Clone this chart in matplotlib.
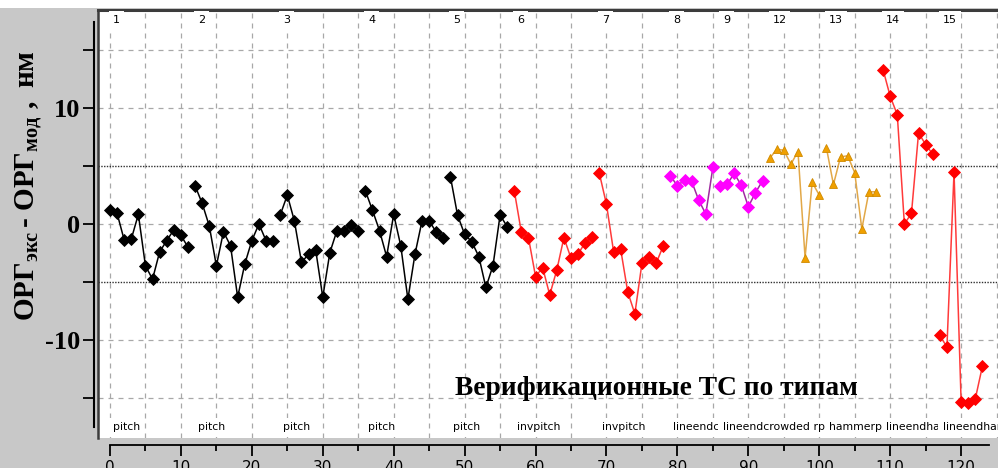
import numpy as np
import matplotlib.pyplot as plt
from matplotlib.patches import Rectangle

plt.rcParams['axes.unicode_minus'] = False
plt.rcParams['mathtext.fontset'] = 'custom'
plt.rcParams['mathtext.rm'] = 'Liberation Serif:bold'
plt.rcParams['mathtext.bf'] = 'Liberation Serif:bold'
plt.rcParams['mathtext.it'] = 'Liberation Serif:bold'

# group numbers (top row) and test-structure types (bottom row)
group_ids = ["1", "2", "3", "4", "5", "6", "7", "8", "9", "12", "13", "14", "15"]
group_types = ["pitch", "pitch", "pitch", "pitch", "pitch", "invpitch", "invpitch",
               "lineendcrowded", "lineendcrowded", "hammerpa", "hammerpattern",
               "lineendhammer", "lineendhammer"]

# ORG_exp - ORG_mod, nm, per group
g1 = [1.2, 0.92, -1.37, -1.3, 0.83, -3.6, -4.75, -2.4, -1.43, -0.5, -0.97, -2.0]
g2 = [3.29, 1.77, -0.17, -3.6, -0.66, -1.89, -6.3, -3.46, -1.43, 0.0, -1.43, -1.43]
g3 = [0.77, 2.49, 0.26, -3.3, -2.6, -2.23, -6.3, -2.46, -0.57, -0.57, -0.09, -0.57]
g4 = [2.86, 1.2, -0.57, -2.8, 0.83, -1.89, -6.47, -2.6, 0.28, 0.28, -0.71, -1.17]
g5 = [4.06, 0.77, -0.89, -1.52, -2.8, -5.46, -3.58, 0.77, -0.23]
g6 = [2.86, -0.71, -1.17, -4.52, -3.75, -6.1, -3.95, -1.17, -2.95, -2.58, -1.6, -1.09]
g7 = [4.35, 1.69, -2.37, -2.17, -5.86, -7.73, -3.38, -2.86, -3.38, -1.89]
g8 = [4.15, 3.29, 3.78, 3.69, 2.06, 0.86, 4.87]
g9 = [3.26, 3.4, 4.35, 3.35, 1.49, 2.69, 3.72]
g12 = [5.64, 6.44, 6.35, 5.15, 6.24, -2.89, 3.58, 2.49]
g13 = [6.58, 3.4, 5.78, 5.87, 4.43, -0.43, 2.77, 2.77]
g14 = [13.28, 10.99, 9.41, 0.0, 0.92, 7.84, 6.84, 6.0]
g15 = [-9.59, -10.59, 4.44, -15.3, -15.45, -15.05, -12.25]
groups = [g1, g2, g3, g4, g5, g6, g7, g8, g9, g12, g13, g14, g15]

# style per group: (marker, marker colour, line colour)
black = ('D', '#000000', '#000000')
red = ('D', '#ff0000', '#ff3a3a')
magenta = ('D', '#ff00ff', '#a02aa0')
orange = ('^', '#f0a000', '#e2a848')
group_styles = [black] * 5 + [red] * 2 + [magenta] * 2 + [orange] * 2 + [red] * 2

BG = '#c8c8c8'
W, H = 998, 468

fig = plt.figure(figsize=(W / 100, H / 100), dpi=100, facecolor=BG)
fig.patches.append(Rectangle((0, 1 - 8 / H), 1, 8 / H, transform=fig.transFigure,
                             facecolor='white', edgecolor='none'))

pos = [98 / W, (H - 438) / H, 900 / W, 428 / H]
YLIM = (-18.42, 18.42)
ax = fig.add_axes(pos)
ax.set_facecolor('white')
ax.set_xlim(-1.69, 125.2)
ax.set_ylim(*YLIM)

# frame: dark top and left, nothing on the right
ax.spines['top'].set_color('#3c3c3c')
ax.spines['top'].set_linewidth(2.2)
ax.spines['left'].set_color('#3c3c3c')
ax.spines['left'].set_linewidth(1.8)
ax.spines['right'].set_visible(False)
ax.spines['bottom'].set_position(('outward', 5))
ax.spines['bottom'].set_bounds(0, 124)
ax.spines['bottom'].set_linewidth(1.3)
ax.set_xticks(np.arange(0, 121, 10))
ax.set_xticks(np.arange(5, 125, 10), minor=True)
ax.tick_params(axis='x', which='major', length=8, width=1.3, pad=3,
               labelsize=11, labelcolor='black')
ax.tick_params(axis='x', which='minor', length=4, width=1.3)
ax.set_yticks([])

# grid
for gx in np.arange(0, 126, 5):
    ax.axvline(gx, color='#a8a8a8', lw=0.9, ls=(0, (4, 4)), zorder=0)
for gy in [-15, -10, 0, 10, 15]:
    ax.axhline(gy, color='#a8a8a8', lw=0.9, ls=(0, (4, 4)), zorder=0)
for gy in [-5, 5]:
    ax.axhline(gy, color='#303030', lw=1.0, ls=(0, (1, 1)), zorder=0)

# separate y axis just left of the frame
axy = fig.add_axes(pos)
axy.set_ylim(*YLIM)
axy.patch.set_visible(False)
for s in ['top', 'right', 'bottom']:
    axy.spines[s].set_visible(False)
axy.spines['left'].set_position(('outward', 3))
axy.spines['left'].set_bounds(-17.5, 17.4)
axy.spines['left'].set_linewidth(1.5)
axy.set_xticks([])
axy.set_yticks([-15, -10, -5, 0, 5, 10, 15])
axy.set_yticklabels(['', '-10', '', '0', '', '10', ''])
axy.tick_params(axis='y', length=8, width=1.3, pad=2, labelsize=19)
for lab in axy.get_yticklabels():
    lab.set_fontfamily('Liberation Serif')
    lab.set_fontweight('bold')

# series
start = 0
for i, vals in enumerate(groups):
    xs = np.arange(start, start + len(vals))
    mk, mc, lc = group_styles[i]
    ax.plot(xs, vals, color=lc, lw=1.1, zorder=3)
    ax.plot(xs, vals, ls='none', marker=mk, ms=5.8 if mk == 'D' else 6.2,
            mfc=mc, mec=mc if mk == 'D' else '#d08a00', mew=0.6, zorder=4)
    z = 5 + i
    if group_ids[i] == "12":
        z = 5 + i - 2  # drawn under the label of group 9
    ax.text(start + 0.4, 17.55, group_ids[i], fontsize=8, family='DejaVu Sans',
            ha='left', va='center', zorder=6,
            bbox=dict(boxstyle='square,pad=0.35', fc='white', ec='none'))
    ax.text(start + 0.4, -17.5, group_types[i], fontsize=7.8, family='DejaVu Sans',
            ha='left', va='center', zorder=z, clip_on=True,
            bbox=dict(boxstyle='square,pad=0.4', fc='white', ec='none'))
    start += len(vals)

ax.text(48.7, -14.7, 'Верификационные ТС по типам', fontsize=19.8,
        family='Liberation Serif', fontweight='bold', ha='left', va='baseline',
        zorder=7)

fig.text(29 / W, 1 - 186 / H, r'$\mathrm{ОРГ_{экс}\,}$' + '- ' + r'$\mathrm{ОРГ_{мод}\ ,\ нм}$',
         rotation=90, fontsize=21, ha='center', va='center',
         family='Liberation Serif', fontweight='bold')

fig.savefig('out.png', dpi=100, facecolor=BG)
